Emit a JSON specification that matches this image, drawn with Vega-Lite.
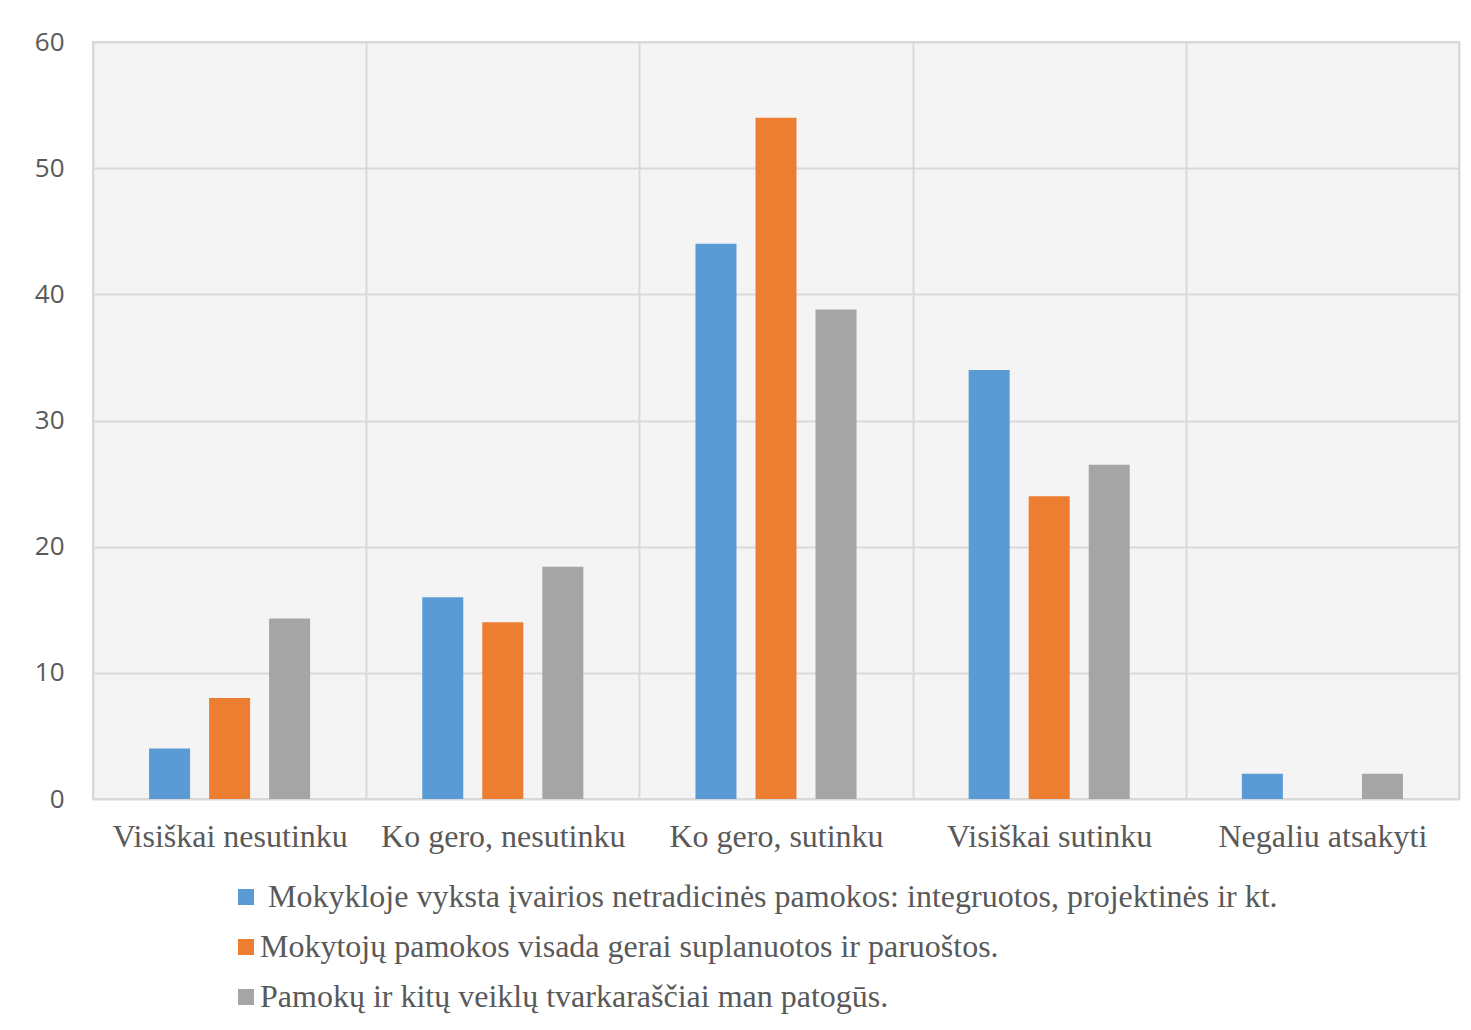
{
  "$schema": "https://vega.github.io/schema/vega-lite/v6.json",
  "autosize": {"type": "none"},
  "width": 1366,
  "height": 757,
  "padding": {"left": 93, "top": 42, "right": 12, "bottom": 231},
  "background": "white",
  "config": {
    "view": {"stroke": "#d9d9d9", "strokeWidth": 2, "fill": "#f4f4f4"}
  },
  "data": {
    "values": [
      {"kategorija": "Visiškai nesutinku", "teiginys": "\u200b Mokykloje vyksta įvairios netradicinės pamokos: integruotos, projektinės ir kt.", "reiksme": 4},
      {"kategorija": "Visiškai nesutinku", "teiginys": "Mokytojų pamokos visada gerai suplanuotos ir paruoštos.", "reiksme": 8},
      {"kategorija": "Visiškai nesutinku", "teiginys": "Pamokų ir kitų veiklų tvarkaraščiai man patogūs.", "reiksme": 14.3},
      {"kategorija": "Ko gero, nesutinku", "teiginys": "\u200b Mokykloje vyksta įvairios netradicinės pamokos: integruotos, projektinės ir kt.", "reiksme": 16},
      {"kategorija": "Ko gero, nesutinku", "teiginys": "Mokytojų pamokos visada gerai suplanuotos ir paruoštos.", "reiksme": 14},
      {"kategorija": "Ko gero, nesutinku", "teiginys": "Pamokų ir kitų veiklų tvarkaraščiai man patogūs.", "reiksme": 18.4},
      {"kategorija": "Ko gero, sutinku", "teiginys": "\u200b Mokykloje vyksta įvairios netradicinės pamokos: integruotos, projektinės ir kt.", "reiksme": 44},
      {"kategorija": "Ko gero, sutinku", "teiginys": "Mokytojų pamokos visada gerai suplanuotos ir paruoštos.", "reiksme": 54},
      {"kategorija": "Ko gero, sutinku", "teiginys": "Pamokų ir kitų veiklų tvarkaraščiai man patogūs.", "reiksme": 38.8},
      {"kategorija": "Visiškai sutinku", "teiginys": "\u200b Mokykloje vyksta įvairios netradicinės pamokos: integruotos, projektinės ir kt.", "reiksme": 34},
      {"kategorija": "Visiškai sutinku", "teiginys": "Mokytojų pamokos visada gerai suplanuotos ir paruoštos.", "reiksme": 24},
      {"kategorija": "Visiškai sutinku", "teiginys": "Pamokų ir kitų veiklų tvarkaraščiai man patogūs.", "reiksme": 26.5},
      {"kategorija": "Negaliu atsakyti", "teiginys": "\u200b Mokykloje vyksta įvairios netradicinės pamokos: integruotos, projektinės ir kt.", "reiksme": 2},
      {"kategorija": "Negaliu atsakyti", "teiginys": "Mokytojų pamokos visada gerai suplanuotos ir paruoštos.", "reiksme": 0},
      {"kategorija": "Negaliu atsakyti", "teiginys": "Pamokų ir kitų veiklų tvarkaraščiai man patogūs.", "reiksme": 2}
    ]
  },
  "mark": {"type": "bar"},
  "encoding": {
    "x": {
      "field": "kategorija",
      "type": "nominal",
      "sort": null,
      "scale": {"paddingInner": 0, "paddingOuter": 0},
      "axis": {
        "title": null,
        "labelAngle": 0,
        "labelFont": "Liberation Serif",
        "labelFontSize": 32,
        "labelColor": "#595959",
        "labelPadding": 22,
        "ticks": false,
        "domain": false,
        "grid": true,
        "tickBand": "extent",
        "gridColor": "#d9d9d9",
        "gridWidth": 2,
        "labelLimit": 0
      }
    },
    "xOffset": {
      "field": "teiginys",
      "type": "nominal",
      "sort": null,
      "scale": {"paddingInner": 0.317, "paddingOuter": 0.934}
    },
    "y": {
      "field": "reiksme",
      "type": "quantitative",
      "scale": {"domain": [0, 60], "nice": false},
      "axis": {
        "title": null,
        "values": [0, 10, 20, 30, 40, 50, 60],
        "labelFont": "Open Sans",
        "labelFontSize": 26,
        "labelColor": "#595959",
        "labelPadding": 29,
        "ticks": false,
        "domain": false,
        "grid": true,
        "gridColor": "#d9d9d9",
        "gridWidth": 2
      }
    },
    "color": {
      "field": "teiginys",
      "type": "nominal",
      "sort": null,
      "scale": {
        "domain": [
          "\u200b Mokykloje vyksta įvairios netradicinės pamokos: integruotos, projektinės ir kt.",
          "Mokytojų pamokos visada gerai suplanuotos ir paruoštos.",
          "Pamokų ir kitų veiklų tvarkaraščiai man patogūs."
        ],
        "range": ["#5b9bd5", "#ed7d31", "#a5a5a5"]
      },
      "legend": {
        "title": null,
        "orient": "none",
        "legendX": 137,
        "legendY": 839,
        "direction": "vertical",
        "padding": 0,
        "symbolType": "square",
        "symbolSize": 256,
        "symbolStrokeWidth": 0,
        "labelFont": "Liberation Serif",
        "labelFontSize": 32,
        "labelColor": "#595959",
        "labelOffset": -2,
        "labelLimit": 0,
        "rowPadding": 18
      }
    }
  }
}
